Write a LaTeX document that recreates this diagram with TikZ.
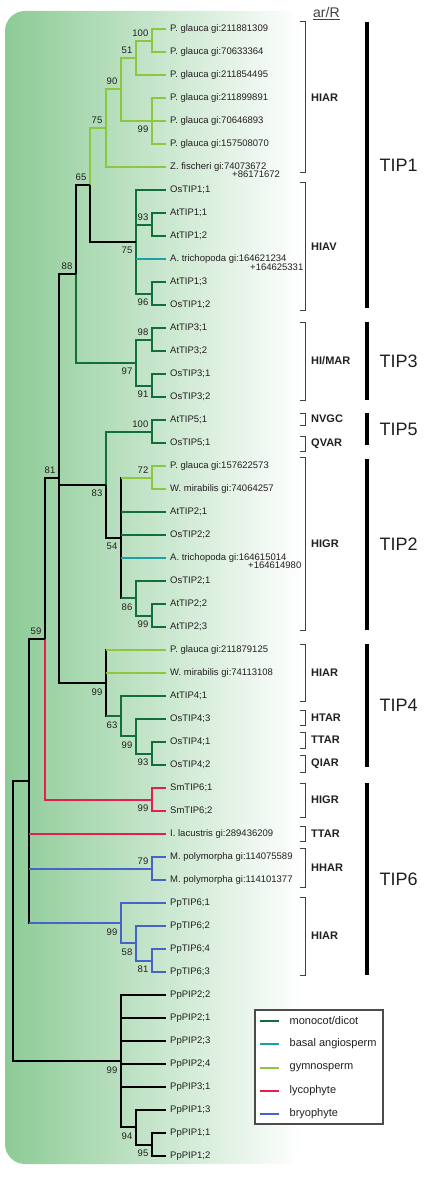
\documentclass[tikz,border=0pt]{standalone}
\usepackage{fontspec}
\setmainfont{Liberation Sans}
\definecolor{cmono}{RGB}{18,110,60}
\definecolor{cbasal}{RGB}{28,160,165}
\definecolor{cgym}{RGB}{141,198,63}
\definecolor{clyco}{RGB}{230,30,80}
\definecolor{cbryo}{RGB}{70,100,200}
\definecolor{bgleft}{RGB}{140,203,150}
\definecolor{bgmid}{RGB}{182,220,187}
\definecolor{txt}{RGB}{35,31,32}
\begin{document}
\begin{tikzpicture}[x=1pt,y=-1pt,
  br/.style={line width=1.9pt},
  blk/.style={br,draw=black},
  mono/.style={br,draw=cmono},
  basal/.style={br,draw=cbasal},
  gym/.style={br,draw=cgym},
  lyco/.style={br,draw=clyco},
  bryo/.style={br,draw=cbryo},
  pvert/.style={br,line cap=rect},
  leaf/.style={anchor=west,inner sep=1pt,font=\fontsize{9.5}{11}\selectfont,text=txt},
  bsa/.style={anchor=base east,inner sep=0pt,font=\fontsize{9.5}{11}\selectfont,text=txt},
  brk/.style={draw=black!75,line width=1pt},
  grp/.style={anchor=west,inner sep=0pt,font=\fontsize{11}{13}\selectfont\bfseries,text=txt},
  bar/.style={draw=black,line width=3.3pt},
  tip/.style={anchor=west,inner sep=0pt,font=\fontsize{18}{20}\selectfont,text=txt},
  legtxt/.style={anchor=west,inner sep=0pt,font=\fontsize{11}{13}\selectfont,text=txt}
]
\useasboundingbox (0,0) rectangle (425,1182);
% background
\shade[rounded corners=20pt,left color=bgleft,middle color=bgmid,right color=white] (5,11) rectangle (302,1164);

\newcommand\leaf[3]{\coordinate (L#1) at (166,#2); \node[leaf] (T#1) at (169,#2) {#3};}
\newcommand\bsup[4]{\node[bsa] (B#1) at ({#2-3.5},{#3-4.5}) {#4};}
\newcommand\bsdn[4]{\node[bsa] (B#1) at ({#2-3.5},{#3+12}) {#4};}

% leaves
\leaf{0}{29}{P. glauca gi:211881309}
\leaf{1}{52}{P. glauca gi:70633364}
\leaf{2}{75}{P. glauca gi:211854495}
\leaf{3}{98}{P. glauca gi:211899891}
\leaf{4}{121}{P. glauca gi:70646893}
\leaf{5}{144}{P. glauca gi:157508070}
\leaf{6}{167}{Z. fischeri gi:74073672}
\node[leaf] (T6b) at (231,174.5) {+86171672};
\leaf{7}{190}{OsTIP1;1}
\leaf{8}{213}{AtTIP1;1}
\leaf{9}{236}{AtTIP1;2}
\leaf{10}{259}{A. trichopoda gi:164621234}
\node[leaf] (T10b) at (249,266.8) {+164625331};
\leaf{11}{282}{AtTIP1;3}
\leaf{12}{305}{OsTIP1;2}
\leaf{13}{328}{AtTIP3;1}
\leaf{14}{351}{AtTIP3;2}
\leaf{15}{374}{OsTIP3;1}
\leaf{16}{397}{OsTIP3;2}
\leaf{17}{420}{AtTIP5;1}
\leaf{18}{443}{OsTIP5;1}
\leaf{19}{466}{P. glauca gi:157622573}
\leaf{20}{489}{W. mirabilis gi:74064257}
\leaf{21}{512}{AtTIP2;1}
\leaf{22}{535}{OsTIP2;2}
\leaf{23}{558}{A. trichopoda gi:164615014}
\node[leaf] (T23b) at (247,565.5) {+164614980};
\leaf{24}{581}{OsTIP2;1}
\leaf{25}{604}{AtTIP2;2}
\leaf{26}{627}{AtTIP2;3}
\leaf{27}{650}{P. glauca gi:211879125}
\leaf{28}{673}{W. mirabilis gi:74113108}
\leaf{29}{696}{AtTIP4;1}
\leaf{30}{719}{OsTIP4;3}
\leaf{31}{742}{OsTIP4;1}
\leaf{32}{765}{OsTIP4;2}
\leaf{33}{788}{SmTIP6;1}
\leaf{34}{811}{SmTIP6;2}
\leaf{35}{834}{I. lacustris gi:289436209}
\leaf{36}{857}{M. polymorpha gi:114075589}
\leaf{37}{880}{M. polymorpha gi:114101377}
\leaf{38}{903}{PpTIP6;1}
\leaf{39}{926}{PpTIP6;2}
\leaf{40}{949}{PpTIP6;4}
\leaf{41}{972}{PpTIP6;3}
\leaf{42}{995}{PpPIP2;2}
\leaf{43}{1018}{PpPIP2;1}
\leaf{44}{1041}{PpPIP2;3}
\leaf{45}{1064}{PpPIP2;4}
\leaf{46}{1087}{PpPIP3;1}
\leaf{47}{1110}{PpPIP1;3}
\leaf{48}{1133}{PpPIP1;1}
\leaf{49}{1156}{PpPIP1;2}

% internal nodes
\coordinate (a100) at (152,40.75);
\coordinate (a51) at (136,57.75);
\coordinate (a99t) at (152,121);
\coordinate (a90) at (121,89.25);
\coordinate (a75g) at (106,128.25);
\coordinate (b93) at (152,224.75);
\coordinate (b96) at (152,293.75);
\coordinate (b75) at (136,241.75);
\coordinate (c65) at (90,185);
\coordinate (d98) at (152,339.75);
\coordinate (d91) at (152,385.75);
\coordinate (d97) at (136,362.75);
\coordinate (e88) at (76,273.75);
\coordinate (f100) at (152,431.75);
\coordinate (g72) at (152,477.75);
\coordinate (g99) at (152,615.75);
\coordinate (g86) at (136,598.25);
\coordinate (g54) at (121,537.75);
\coordinate (f83) at (106,484.75);
\coordinate (h93) at (152,753.75);
\coordinate (h99) at (136,736.25);
\coordinate (h63) at (121,716.25);
\coordinate (h99b) at (106,683);
\coordinate (i81) at (59,478.25);
\coordinate (j99) at (152,799.75);
\coordinate (j59) at (45,639);
\coordinate (k79) at (152,868.75);
\coordinate (m81) at (152,960.75);
\coordinate (m58) at (136,943.25);
\coordinate (m99) at (121,923.25);
\coordinate (nn) at (29,781);
\coordinate (p95) at (152,1144.75);
\coordinate (p94) at (136,1127.25);
\coordinate (p99) at (121,1061.25);
\coordinate (root) at (13,921);

% TIP1 gymnosperm clade
\draw[gym] (a100) |- (L0); \draw[gym] (a100) |- (L1);
\draw[gym] (a51) |- (a100); \draw[gym] (a51) |- (L2);
\draw[gym,pvert] (a99t |- L3) -- (a99t |- L5);
\draw[gym] (a99t |- L3) -- (L3); \draw[gym] (a99t |- L4) -- (L4); \draw[gym] (a99t |- L5) -- (L5);
\draw[gym] (a90) |- (a51); \draw[gym] (a90) |- (a99t);
\draw[gym] (a75g) |- (a90); \draw[gym] (a75g) |- (L6);
% HIAV
\draw[mono] (b93) |- (L8); \draw[mono] (b93) |- (L9);
\draw[mono] (b96) |- (L11); \draw[mono] (b96) |- (L12);
\draw[mono,pvert] (b75 |- L7) -- (b75 |- b96);
\draw[mono] (b75 |- L7) -- (L7); \draw[mono] (b75 |- b93) -- (b93);
\draw[basal] (b75 |- L10) -- (L10); \draw[mono] (b75 |- b96) -- (b96);
\draw[gym] (c65) |- (a75g); \draw[blk] (c65) |- (b75);
% TIP3
\draw[mono] (d98) |- (L13); \draw[mono] (d98) |- (L14);
\draw[mono] (d91) |- (L15); \draw[mono] (d91) |- (L16);
\draw[mono] (d97) |- (d98); \draw[mono] (d97) |- (d91);
\draw[blk] (e88) |- (c65); \draw[mono] (e88) |- (d97);
% TIP5
\draw[mono] (f100) |- (L17); \draw[mono] (f100) |- (L18);
% TIP2
\draw[gym] (g72) |- (L19); \draw[gym] (g72) |- (L20);
\draw[mono] (g99) |- (L25); \draw[mono] (g99) |- (L26);
\draw[mono] (g86) |- (L24); \draw[mono] (g86) |- (g99);
\draw[blk,pvert] (g54 |- g72) -- (g54 |- g86);
\draw[gym] (g54 |- g72) -- (g72); \draw[mono] (g54 |- L21) -- (L21);
\draw[mono] (g54 |- L22) -- (L22); \draw[basal] (g54 |- L23) -- (L23);
\draw[mono] (g54 |- g86) -- (g86);
\draw[mono] (f83) |- (f100); \draw[blk] (f83) |- (g54);
% TIP4
\draw[mono] (h93) |- (L31); \draw[mono] (h93) |- (L32);
\draw[mono] (h99) |- (L30); \draw[mono] (h99) |- (h93);
\draw[mono] (h63) |- (L29); \draw[mono] (h63) |- (h99);
\draw[blk,pvert] (h99b |- L27) -- (h99b |- h63);
\draw[gym] (h99b |- L27) -- (L27); \draw[gym] (h99b |- L28) -- (L28);
\draw[mono] (h99b |- h63) -- (h63);
% backbone
\draw[blk,pvert] (i81 |- e88) -- (i81 |- h99b);
\draw[blk] (i81 |- e88) -- (e88); \draw[blk] (i81 |- f83) -- (f83); \draw[blk] (i81 |- h99b) -- (h99b);
% TIP6
\draw[lyco] (j99) |- (L33); \draw[lyco] (j99) |- (L34);
\draw[blk] (j59) |- (i81); \draw[lyco] (j59) |- (j99);
\draw[bryo] (k79) |- (L36); \draw[bryo] (k79) |- (L37);
\draw[bryo] (m81) |- (L40); \draw[bryo] (m81) |- (L41);
\draw[bryo] (m58) |- (L39); \draw[bryo] (m58) |- (m81);
\draw[bryo] (m99) |- (L38); \draw[bryo] (m99) |- (m58);
\draw[blk,pvert] (nn |- j59) -- (nn |- m99);
\draw[blk] (nn |- j59) -- (j59); \draw[lyco] (nn |- L35) -- (L35);
\draw[bryo] (nn |- k79) -- (k79); \draw[bryo] (nn |- m99) -- (m99);
% PIP outgroup
\draw[blk] (p95) |- (L48); \draw[blk] (p95) |- (L49);
\draw[blk] (p94) |- (L47); \draw[blk] (p94) |- (p95);
\draw[blk,pvert] (p99 |- L42) -- (p99 |- p94);
\draw[blk] (p99 |- L42) -- (L42); \draw[blk] (p99 |- L43) -- (L43);
\draw[blk] (p99 |- L44) -- (L44); \draw[blk] (p99 |- L45) -- (L45);
\draw[blk] (p99 |- L46) -- (L46); \draw[blk] (p99 |- p94) -- (p94);
\draw[blk] (root) |- (nn); \draw[blk] (root) |- (p99);

% bootstrap values
\bsup{1}{152}{40.75}{100}
\bsup{2}{136}{57.75}{51}
\bsdn{3}{152}{121}{99}
\bsup{4}{121}{89.25}{90}
\bsup{5}{106}{128.25}{75}
\bsup{6}{152}{224.75}{93}
\bsdn{7}{152}{293.75}{96}
\bsdn{8}{136}{241.75}{75}
\bsup{9}{90}{185}{65}
\bsup{10}{152}{339.75}{98}
\bsdn{11}{152}{385.75}{91}
\bsdn{12}{136}{362.75}{97}
\bsup{13}{76}{273.75}{88}
\bsup{14}{152}{431.75}{100}
\bsup{15}{152}{477.75}{72}
\bsdn{16}{152}{615.75}{99}
\bsdn{17}{136}{598.25}{86}
\bsdn{18}{121}{537.75}{54}
\bsdn{19}{106}{484.75}{83}
\bsdn{20}{152}{753.75}{93}
\bsdn{21}{136}{736.25}{99}
\bsdn{22}{121}{716.25}{63}
\bsdn{23}{106}{683}{99}
\bsup{24}{59}{478.25}{81}
\bsdn{25}{152}{799.75}{99}
\bsup{26}{45}{639}{59}
\bsup{27}{152}{868.75}{79}
\bsdn{28}{152}{960.75}{81}
\bsdn{29}{136}{943.25}{58}
\bsdn{30}{121}{923.25}{99}
\bsdn{31}{152}{1144.75}{95}
\bsdn{32}{136}{1127.25}{94}
\bsdn{33}{121}{1061.25}{99}

% header
\node[anchor=west,inner sep=0pt,font=\fontsize{14}{16}\selectfont,text=black!75] (hdr) at (313,12.5) {ar/R};
\draw[black!75,line width=0.8pt] (313,19) -- (hdr.east |- 0,19);

% brackets
\newcommand\brk[4]{\draw[brk] (300,#1) -- (305.5,#1) -- (305.5,#2) -- (300,#2);
  \node[grp] (G#4) at (311,{(#1+#2)/2}) {#3};}
\brk{22}{173}{HIAR}{1}
\brk{183}{310}{HIAV}{2}
\brk{322}{400}{HI/MAR}{3}
\brk{413}{425}{NVGC}{4}
\brk{436}{451}{QVAR}{5}
\brk{457}{630}{HIGR}{6}
\brk{644}{701}{HIAR}{7}
\brk{710}{725}{HTAR}{8}
\brk{732}{748}{TTAR}{9}
\brk{755}{772}{QIAR}{10}
\brk{783}{817}{HIGR}{11}
\brk{826}{841}{TTAR}{12}
\brk{848}{887}{HHAR}{13}
\brk{897}{975}{HIAR}{14}

% subfamily bars
\newcommand\tipbar[4]{\draw[bar] (367,#1) -- (367,#2);
  \node[tip] (S#4) at (379.5,{(#1+#2)/2}) {#3};}
\tipbar{22}{308}{TIP1}{1}
\tipbar{322}{400}{TIP3}{3}
\tipbar{413}{445}{TIP5}{5}
\tipbar{459}{630}{TIP2}{2}
\tipbar{644}{767}{TIP4}{4}
\tipbar{783}{975}{TIP6}{6}

% legend
\draw[draw=black!70,line width=1.3pt,fill=white] (255,1010) rectangle (383,1124);
\newcommand\legent[4]{\draw[#1,line width=2pt] (260,#2) -- (279,#2);
  \node[legtxt] (E#4) at (289.5,#2) {#3};}
\legent{cmono}{1021}{monocot/dicot}{1}
\legent{cbasal}{1044}{basal angiosperm}{2}
\legent{cgym}{1067.5}{gymnosperm}{3}
\legent{clyco}{1090.5}{lycophyte}{4}
\legent{cbryo}{1113.5}{bryophyte}{5}
\end{tikzpicture}
\end{document}
